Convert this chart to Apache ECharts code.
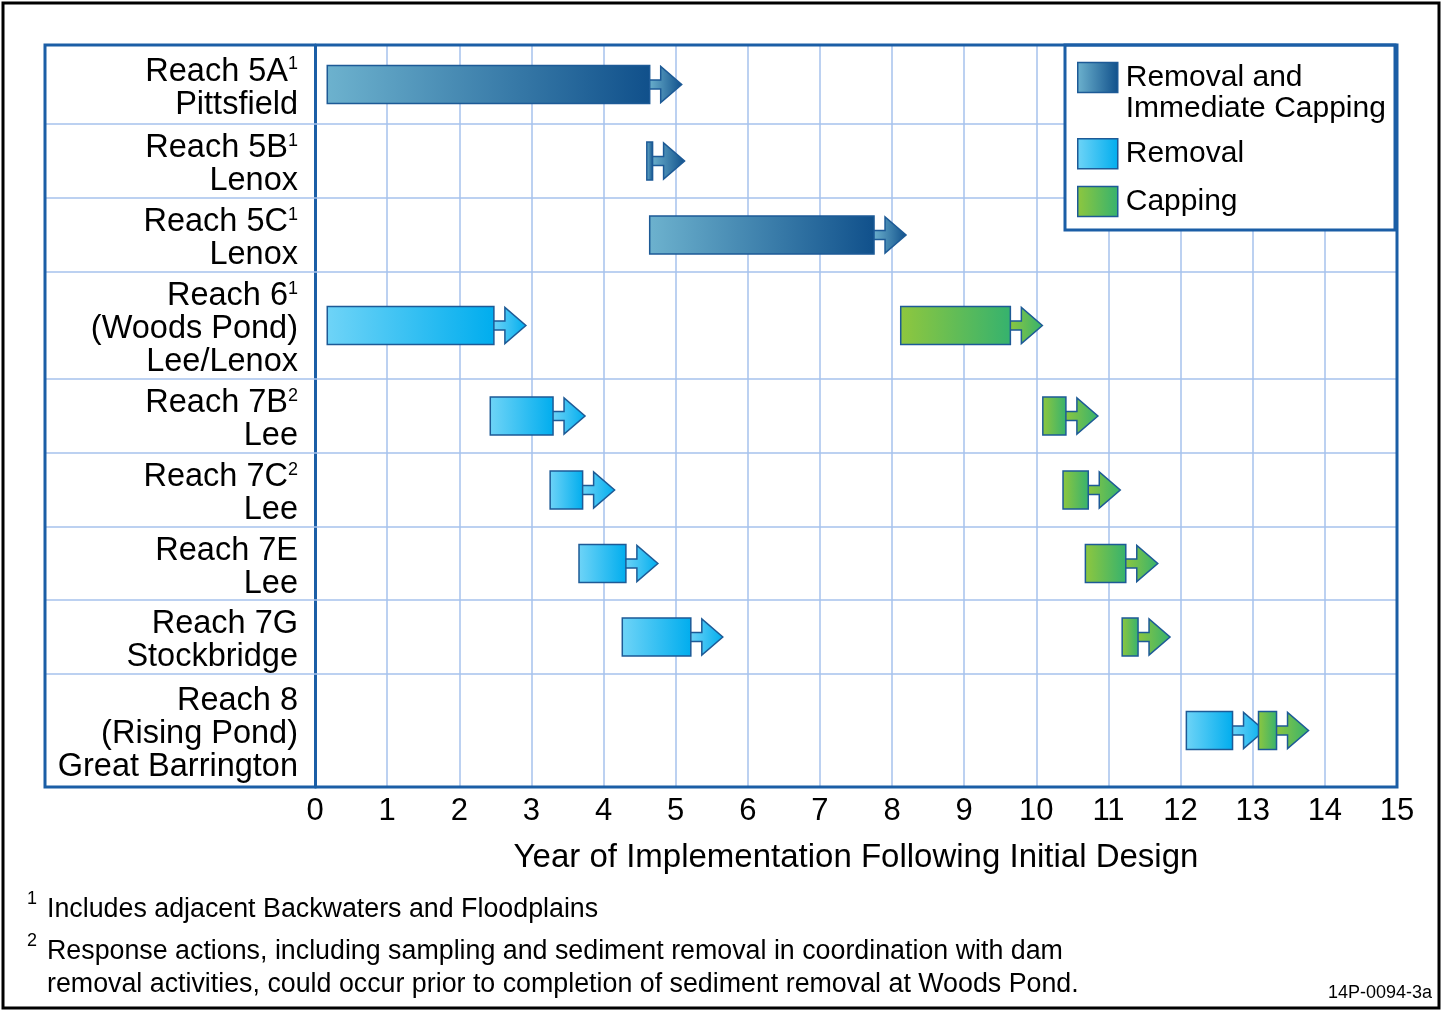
<!DOCTYPE html>
<html>
<head>
<meta charset="utf-8">
<script src="https://cdn.jsdelivr.net/npm/echarts@6/dist/echarts.min.js"></script>
<style>
  html, body { margin: 0; padding: 0; background: #fff; }
  #chart { width: 1442px; height: 1010px; }
</style>
</head>
<body>
<div id="chart"></div>
<script>
// rows (top to bottom)
const reachLabels = [
  'Reach 5A{s|1}\nPittsfield',
  'Reach 5B{s|1}\nLenox',
  'Reach 5C{s|1}\nLenox',
  'Reach 6{s|1}\n(Woods Pond)\nLee/Lenox',
  'Reach 7B{s|2}\nLee',
  'Reach 7C{s|2}\nLee',
  'Reach 7E\nLee',
  'Reach 7G\nStockbridge',
  'Reach 8\n(Rising Pond)\nGreat Barrington'
]
const xTicks = [0, 15]

// years since initial design
const ricRows = [0, 1, 2]
const ricStart = [0.17, 4.6, 4.64]
const ricEnd = [4.64, 4.68, 7.75]

const removalRows = [3, 4, 5, 6, 7, 8]
const removalStart = [0.17, 2.43, 3.26, 3.66, 4.26, 12.08]
const removalEnd = [2.48, 3.3, 3.71, 4.31, 5.21, 12.72]

const cappingRows = [3, 4, 5, 6, 7, 8]
const cappingStart = [8.12, 10.09, 10.37, 10.68, 11.19, 13.08]
const cappingEnd = [9.64, 10.41, 10.72, 11.24, 11.41, 13.33]

// layout: row heights (3-line rows are taller)
const rowSpans = [79, 74, 74, 107, 74, 74, 73, 74, 113]
const rowTops = []
let acc = 0
rowSpans.forEach(function (h) { rowTops.push(acc); acc += h })
const rowTotal = acc

const FONT = 'Liberation Sans, Arial, Helvetica, sans-serif'
const FRAME = '#1b5ea6'
const GRIDLINE = '#a6c2ec'
const EDGE = '#1d5a96'
const FRAME_LEFT = 45

function grad(c0, c1) {
  return new echarts.graphic.LinearGradient(0, 0, 1, 0, [
    { offset: 0, color: c0 },
    { offset: 1, color: c1 }
  ])
}
const fills = {
  'Removal and Immediate Capping': grad('#6db2ce', '#10508b'),
  'Removal': grad('#6fd4f7', '#00adee'),
  'Capping': grad('#8fc73e', '#35b26e')
}

function zip(rows, a, b) {
  return rows.map(function (r, i) { return [r, a[i], b[i]] })
}

function renderBar(params, api) {
  const row = api.value(0)
  const mid = rowTops[row] + rowSpans[row] / 2
  const p0 = api.coord([api.value(1), mid])
  const p1 = api.coord([api.value(2), mid])
  const h = 38
  const stemH = 9, stemL = 11, headL = 21, headH = 36
  const x = p1[0], y = p1[1]
  const fill = fills[params.seriesName]
  return {
    type: 'group',
    children: [
      {
        type: 'polygon',
        shape: {
          points: [
            [x - 1, y - stemH / 2], [x + stemL, y - stemH / 2], [x + stemL, y - headH / 2],
            [x + stemL + headL, y], [x + stemL, y + headH / 2], [x + stemL, y + stemH / 2],
            [x - 1, y + stemH / 2]
          ]
        },
        style: { fill: fill, stroke: EDGE, lineWidth: 1.5 }
      },
      {
        type: 'rect',
        shape: { x: p0[0], y: y - h / 2, width: Math.max(p1[0] - p0[0], 1), height: h },
        style: { fill: fill, stroke: EDGE, lineWidth: 1.5 }
      }
    ]
  }
}

function renderRow(params, api) {
  const row = api.value(0)
  const top = rowTops[row]
  const mid = top + rowSpans[row] / 2
  const pMid = api.coord([0, mid])
  const pBot = api.coord([15, top + rowSpans[row]])
  const children = [
    {
      type: 'text',
      x: pMid[0] - 17,
      y: pMid[1] + 4,
      style: {
        text: reachLabels[row],
        fill: '#000',
        fontSize: 32.5,
        fontFamily: FONT,
        lineHeight: 33,
        align: 'right',
        verticalAlign: 'middle',
        rich: {
          s: { fontSize: 18, fontFamily: FONT, lineHeight: 20, verticalAlign: 'top', fill: '#000' }
        }
      }
    }
  ]
  if (row < reachLabels.length - 1) {
    children.push({
      type: 'line',
      shape: { x1: FRAME_LEFT, y1: pBot[1], x2: pBot[0], y2: pBot[1] },
      style: { stroke: GRIDLINE, lineWidth: 1.5 }
    })
  }
  return { type: 'group', children: children }
}

function barSeries(name, data) {
  return {
    name: name,
    type: 'custom',
    renderItem: renderBar,
    encode: { x: [1, 2], y: 0 },
    itemStyle: { color: fills[name], borderColor: EDGE, borderWidth: 1.5 },
    data: data,
    z: 3
  }
}

const chart = echarts.init(document.getElementById('chart'))
chart.setOption({
  animation: false,
  backgroundColor: '#fff',
  grid: { left: 315, right: 45, top: 45, bottom: 223, outerBoundsMode: 'none' },
  xAxis: {
    type: 'value',
    min: xTicks[0],
    max: xTicks[1],
    interval: 1,
    name: 'Year of Implementation Following Initial Design',
    nameLocation: 'middle',
    nameGap: 54,
    nameTextStyle: { fontSize: 33, fontFamily: FONT, color: '#000' },
    axisLine: { show: false },
    axisTick: { show: false },
    axisLabel: { fontSize: 31, fontFamily: FONT, color: '#000', margin: 9 },
    splitLine: { show: true, lineStyle: { color: GRIDLINE, width: 1.5 } }
  },
  yAxis: {
    type: 'value',
    inverse: true,
    min: 0,
    max: rowTotal,
    axisLine: { show: true, lineStyle: { color: FRAME, width: 3 } },
    axisTick: { show: false },
    axisLabel: { show: false },
    splitLine: { show: false }
  },
  legend: {
    orient: 'vertical',
    left: 1077,
    top: 31,
    padding: 0,
    itemWidth: 40,
    itemHeight: 30,
    itemGap: 14,
    icon: 'rect',
    selectedMode: false,
    itemStyle: { borderColor: EDGE, borderWidth: 1.5 },
    textStyle: { fontSize: 30, fontFamily: FONT, color: '#000', lineHeight: 30, padding: [0, 0, 0, 3] },
    formatter: function (name) {
      // blank first line keeps the swatch level with the first text line
      return name === 'Removal and Immediate Capping' ? ' \nRemoval and\nImmediate Capping' : name
    },
    data: [
      { name: 'Removal and Immediate Capping', textStyle: { lineHeight: 31 } },
      { name: 'Removal' },
      { name: 'Capping', textStyle: { lineHeight: 36 } }
    ],
    z: 6
  },
  graphic: [
    {
      type: 'rect', z: 5,
      shape: { x: 1065, y: 45, width: 330, height: 185 },
      style: { fill: '#fff', stroke: FRAME, lineWidth: 3 }
    },
    {
      type: 'rect', z: 5,
      shape: { x: FRAME_LEFT, y: 45, width: 1352, height: 742 },
      style: { fill: 'none', stroke: FRAME, lineWidth: 3 }
    },
    {
      type: 'rect', z: 5,
      shape: { x: 3, y: 3, width: 1436, height: 1005 },
      style: { fill: 'none', stroke: '#000', lineWidth: 3 }
    },
    { type: 'text', x: 27, y: 899, style: { text: '1', fontSize: 18, fontFamily: FONT, fill: '#000', verticalAlign: 'middle' } },
    { type: 'text', x: 47, y: 910, style: { text: 'Includes adjacent Backwaters and Floodplains', fontSize: 26.8, fontFamily: FONT, fill: '#000', verticalAlign: 'middle' } },
    { type: 'text', x: 27, y: 941, style: { text: '2', fontSize: 18, fontFamily: FONT, fill: '#000', verticalAlign: 'middle' } },
    {
      type: 'text', x: 47, y: 968,
      style: {
        text: 'Response actions, including sampling and sediment removal in coordination with dam\nremoval activities, could occur prior to completion of sediment removal at Woods Pond.',
        fontSize: 26.8, lineHeight: 33, fontFamily: FONT, fill: '#000', verticalAlign: 'middle'
      }
    },
    { type: 'text', x: 1432, y: 993, style: { text: '14P-0094-3a', fontSize: 18, fontFamily: FONT, fill: '#000', align: 'right', verticalAlign: 'middle' } }
  ],
  series: [
    {
      name: 'rows',
      type: 'custom',
      renderItem: renderRow,
      data: reachLabels.map(function (_, i) { return [i] }),
      encode: { y: 0 },
      silent: true,
      z: 1
    },
    barSeries('Removal and Immediate Capping', zip(ricRows, ricStart, ricEnd)),
    barSeries('Removal', zip(removalRows, removalStart, removalEnd)),
    barSeries('Capping', zip(cappingRows, cappingStart, cappingEnd))
  ]
})
</script>
</body>
</html>
